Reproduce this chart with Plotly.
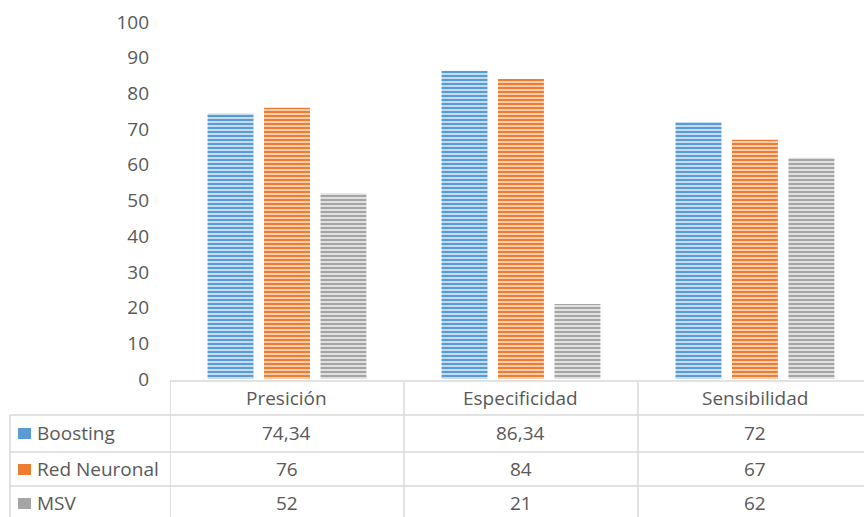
import plotly.graph_objects as go

# Metric categories and scores per model
categories = ["Presición", "Especificidad", "Sensibilidad"]
series_names = ["Boosting", "Red Neuronal", "MSV"]
boosting = [74.34, 86.34, 72]
red_neuronal = [76, 84, 67]
msv = [52, 21, 62]
y_ticks = [0, 10, 20, 30, 40, 50, 60, 70, 80, 90, 100]

series_values = [boosting, red_neuronal, msv]
fg_colors = ["#5b9bd5", "#ed7d31", "#a5a5a5"]
bg_colors = ["#c3dcf2", "#f9cdae", "#e0e0e0"]

W, H = 864, 517
PT, PB, PL = 22, 379, 170          # plot area in pixels
text_color = "#595959"
grid_color = "#d9d9d9"
font_family = "Open Sans, Noto Sans, sans-serif"
FS = 19


def py(pix):
    """pixel row -> paper y"""
    return (PB - pix) / (PB - PT)


def px(pix):
    """pixel column -> paper x"""
    return (pix - PL) / (W - PL)


fig = go.Figure()
for name, vals, fg, bg in zip(series_names, series_values, fg_colors, bg_colors):
    fig.add_trace(go.Bar(
        x=list(range(len(categories))),
        y=vals,
        name=name,
        marker=dict(
            color=fg,
            line=dict(width=0),
            pattern=dict(shape="-", fgcolor=fg, bgcolor=bg, size=4, solidity=0.5,
                         fillmode="replace"),
        ),
    ))

shapes = []
annotations = []

# data table grid
row_lines = [381, 415, 452, 486]
for i, yl in enumerate(row_lines):
    x0 = px(PL) if i == 0 else px(10)
    shapes.append(dict(type="line", xref="paper", yref="paper", x0=x0, x1=1.02,
                       y0=py(yl), y1=py(yl), line=dict(color=grid_color, width=1.5)))
shapes.append(dict(type="line", xref="paper", yref="paper", x0=px(10), x1=px(10),
                   y0=py(415), y1=py(520), line=dict(color=grid_color, width=1.5)))
for c in range(len(categories)):
    shapes.append(dict(type="line", xref="x", yref="paper", x0=c - 0.5, x1=c - 0.5,
                       y0=py(381), y1=py(520), line=dict(color=grid_color, width=1.5)))

# header row: category names
for c, cat in enumerate(categories):
    annotations.append(dict(x=c, y=py(398), xref="x", yref="paper", text=cat,
                            yanchor="middle", showarrow=False,
                            font=dict(size=FS, color=text_color)))

# value rows with series keys
row_centers = [433, 469, 503]
for r, (name, vals, fg) in enumerate(zip(series_names, series_values, fg_colors)):
    yc = row_centers[r]
    shapes.append(dict(type="rect", xref="paper", yref="paper", x0=px(18), x1=px(31),
                       y0=py(yc - 5), y1=py(yc + 6), fillcolor=fg, line=dict(width=0)))
    annotations.append(dict(x=px(35), y=py(yc), xref="paper", yref="paper", text=name,
                            xanchor="left", yanchor="middle", showarrow=False,
                            font=dict(size=FS, color=text_color)))
    for c, v in enumerate(vals):
        label = f"{v:g}".replace(".", ",")
        annotations.append(dict(x=c, y=py(yc), xref="x", yref="paper", text=label,
                                yanchor="middle", showarrow=False,
                                font=dict(size=FS, color=text_color)))

fig.update_layout(
    width=W, height=H,
    margin=dict(l=PL, r=0, t=PT, b=H - PB),
    paper_bgcolor="white", plot_bgcolor="white",
    barmode="group", bargap=0.276, bargroupgap=0.186,
    showlegend=False,
    font=dict(family=font_family, color=text_color, size=FS),
    xaxis=dict(range=[-0.5, 2.466], showticklabels=False, showgrid=False,
               zeroline=False, showline=False, fixedrange=True),
    yaxis=dict(range=[0, 100], tickvals=y_ticks, showgrid=False, zeroline=False,
               showline=False, ticks="", ticklabelstandoff=20,
               tickfont=dict(size=FS, color=text_color)),
    shapes=shapes,
    annotations=annotations,
)

fig.write_html("out.html")
